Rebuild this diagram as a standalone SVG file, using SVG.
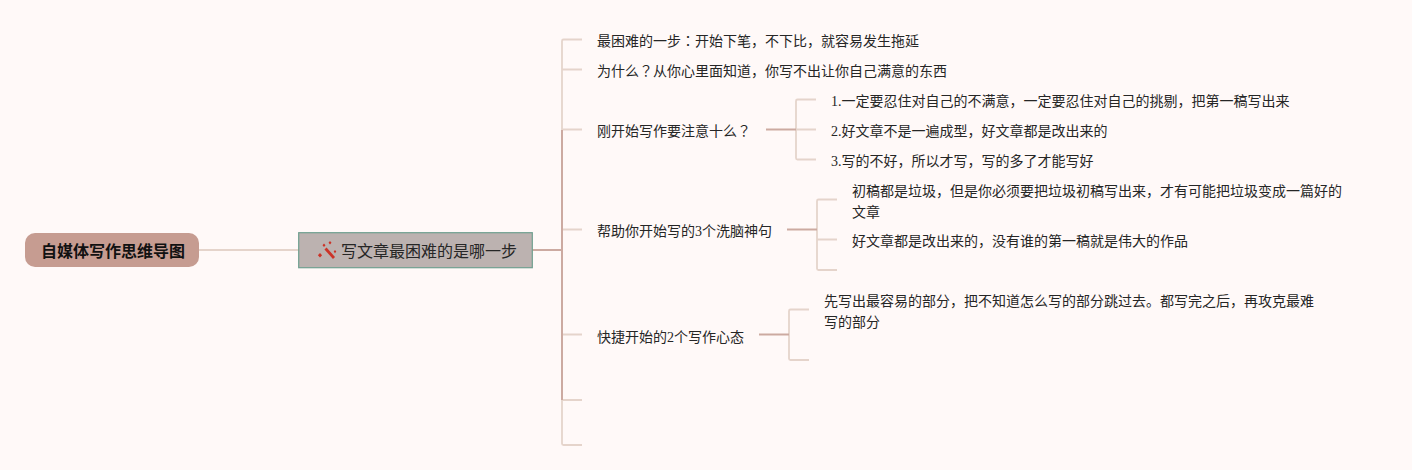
<svg xmlns="http://www.w3.org/2000/svg" width="1412" height="470" viewBox="0 0 1412 470">
<style>
text{font-family:"Liberation Serif","Noto Sans CJK SC",serif;font-size:14px;fill:#262626}
.p{font-family:"Noto Sans CJK JP",sans-serif}
.l{fill:none;stroke:#e5d4cb;stroke-width:1.800}
.d{fill:none;stroke:#ccaaa1;stroke-width:2}
</style>
<rect width="1412" height="470" fill="#fff9f8"/>
<g id="connectors">
<path class="l" d="M199 250H299"/>
<path class="l" d="M582 39.500H563.500Q562 39.500 562 41V130"/>
<path class="l" d="M562 69.500H582M562 129.500H582M562 229.500H582M562 334.500H582M562 400H582"/>
<path class="l" d="M562 400V443.500Q562 445 563.500 445H582"/>
<path class="d" d="M532 250H562"/>
<path class="d" d="M562 130V400"/>
<path class="l" d="M816 99.500H797.500Q796 99.500 796 101V158Q796 159.500 797.500 159.500H816M796 129.500H816"/>
<path class="d" d="M766 129.500H796"/>
<path class="l" d="M837 199.500H818.500Q817 199.500 817 201V268.500Q817 270 818.500 270H837M817 239.500H837"/>
<path class="d" d="M787 229.500H817"/>
<path class="l" d="M809 309.500H790.500Q789 309.500 789 311V358.500Q789 360 790.500 360H809"/>
<path class="d" d="M759 334.500H789"/>
</g>
<g id="root">
<rect x="25" y="233" width="174" height="34" rx="10" fill="#c69c91"/>
<text x="113" y="257" text-anchor="middle" style="font-size:16px;font-weight:700;fill:#111">自媒体写作思维导图</text>
</g>
<g id="main">
<rect x="298.700" y="232.700" width="233.600" height="35" fill="#bcb2b0" stroke="#6f9f8f" stroke-width="1.200"/>
<path d="M325.500 248.500L334 258" stroke="#cc3328" stroke-width="2.800" fill="none"/>
<path d="M330 241l1.500 1.800-1.500 1.800-1.500-1.800zM335 250l1.300 1.600-1.300 1.600-1.300-1.600zM324 243.500l1.500 1.800-1.500 1.800-1.500-1.800zM320 253l2.100 2.200-2.100 2.200-2.100-2.200z" fill="#cc3328"/>
<text x="341" y="256.500" style="font-size:16px">写文章最困难的是哪一步</text>
</g>
<g id="n1"><text x="597" y="46">最困难的一步<tspan class="p">&#xFF1A;</tspan>开始下笔&#xFF0C;不下比&#xFF0C;就容易发生拖延</text></g>
<g id="n2"><text x="597" y="76">为什么<tspan class="p">&#xFF1F;</tspan>从你心里面知道&#xFF0C;你写不出让你自己满意的东西</text></g>
<g id="n3"><text x="597" y="136">刚开始写作要注意十么<tspan class="p">&#xFF1F;</tspan></text></g>
<g id="n31"><text x="831" y="106">1.一定要忍住对自己的不满意&#xFF0C;一定要忍住对自己的挑剔&#xFF0C;把第一稿写出来</text></g>
<g id="n32"><text x="831" y="136">2.好文章不是一遍成型&#xFF0C;好文章都是改出来的</text></g>
<g id="n33"><text x="831" y="166">3.写的不好&#xFF0C;所以才写&#xFF0C;写的多了才能写好</text></g>
<g id="n4"><text x="597" y="236">帮助你开始写的3个洗脑神句</text></g>
<g id="n41"><text x="852" y="196">初稿都是垃圾&#xFF0C;但是你必须要把垃圾初稿写出来&#xFF0C;才有可能把垃圾变成一篇好的</text><text x="852" y="217">文章</text></g>
<g id="n42"><text x="852" y="246">好文章都是改出来的&#xFF0C;没有谁的第一稿就是伟大的作品</text></g>
<g id="n5"><text x="597" y="342">快捷开始的2个写作心态</text></g>
<g id="n51"><text x="824" y="306">先写出最容易的部分&#xFF0C;把不知道怎么写的部分跳过去。都写完之后&#xFF0C;再攻克最难</text><text x="824" y="327">写的部分</text></g>
</svg>
